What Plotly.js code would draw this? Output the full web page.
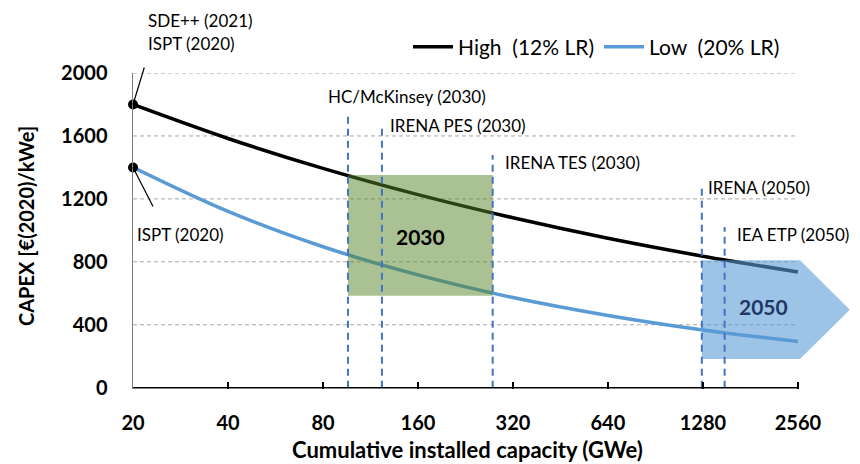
<!DOCTYPE html>
<html>
<head>
<meta charset="utf-8">
<script src="https://cdn.plot.ly/plotly-3.0.1.min.js"></script>
<style>html,body{margin:0;padding:0;background:#fff;}#chart{width:860px;height:464px;}</style>
</head>
<body>
<div id="chart"></div>
<script>
// ---- data ----
const capacityTicks = [20, 40, 80, 160, 320, 640, 1280, 2560];
const capacity = [20, 40, 80, 160, 320, 640, 1280, 2560];
const highCapex = [1800, 1584, 1394, 1227, 1080, 950, 836, 736];   // High (12% LR)
const lowCapex  = [1400, 1120, 896, 717, 573, 459, 367, 294];      // Low (20% LR)
const yTicks = [0, 400, 800, 1200, 1600, 2000];
const gridValues = [400, 800, 1200, 1600, 2000];

const refNames = ['HC/McKinsey (2030)', 'IRENA PES (2030)', 'IRENA TES (2030)', 'IRENA (2050)', 'IEA ETP (2050)'];
const refCapacity = [96, 123, 276, 1270, 1500];
const refTop = [1746, 1651, 1479, 1295, 1022];

const range2030X = [96, 276, 276, 96, 96];
const range2030Y = [584, 584, 1352, 1352, 584];
const range2050X = [1270, 2600, 3740, 2600, 1270, 1270];
const range2050Y = [182, 182, 495, 810, 810, 182];

const FONT = 'Lato, "Liberation Sans", sans-serif';
const traces = [];

// gridlines
gridValues.forEach(v => traces.push({
  x: [capacity[0], capacity[capacity.length - 1]], y: [v, v], mode: 'lines',
  line: {color: '#a6a6a6', width: 1, dash: '4px,3px'}, hoverinfo: 'skip', showlegend: false
}));

traces.push({x: capacity, y: highCapex, name: 'High  (12% LR)', mode: 'lines',
  line: {color: '#000000', width: 3.5, shape: 'spline'}});
traces.push({x: capacity, y: lowCapex, name: 'Low  (20% LR)', mode: 'lines',
  line: {color: '#5b9bd5', width: 3.5, shape: 'spline'}});

traces.push({x: range2030X, y: range2030Y, mode: 'lines', fill: 'toself',
  fillcolor: 'rgba(84,131,40,0.5)', line: {width: 0}, hoverinfo: 'skip', showlegend: false});
traces.push({x: range2050X, y: range2050Y, mode: 'lines', fill: 'toself',
  fillcolor: 'rgba(91,155,213,0.6)', line: {width: 0}, hoverinfo: 'skip', showlegend: false});

refCapacity.forEach((c, i) => traces.push({
  x: [c, c], y: [0, refTop[i]], mode: 'lines',
  line: {color: '#4472c4', width: 2, dash: '7px,5px'}, hoverinfo: 'skip', showlegend: false
}));

// x axis line (ends at last tick)
traces.push({x: [capacity[0], capacity[capacity.length - 1]], y: [0, 0], mode: 'lines',
  line: {color: '#000000', width: 1.5}, hoverinfo: 'skip', showlegend: false});

// start-point markers
traces.push({x: [capacity[0], capacity[0]], y: [highCapex[0], lowCapex[0]], mode: 'markers',
  marker: {color: '#000', size: 10}, cliponaxis: false, hoverinfo: 'skip', showlegend: false});

const px = p => (p - 133) / 719;
const py = p => (389 - p) / 316;

const annotations = [];
const txt = (text, x, y, opts) => annotations.push(Object.assign({
  text: text, xref: 'paper', yref: 'paper', x: x, y: y, xanchor: 'left', yanchor: 'middle',
  showarrow: false, font: {family: FONT, size: 17, color: '#000'}
}, opts || {}));

txt('SDE++ (2021)', px(146), py(20));
txt('ISPT (2020)', px(146), py(44));
txt('ISPT (2020)', px(135), py(234));
const refLabelPx = [[326, 97], [388, 125], [503, 162], [706, 187], [735, 234]];
refNames.forEach((n, i) => txt(n, px(refLabelPx[i][0]), py(refLabelPx[i][1])));
txt('<b>2030</b>', px(420), py(236), {xanchor: 'center', font: {family: FONT, size: 21, color: '#000'}});
txt('<b>2050</b>', px(763), py(306), {xanchor: 'center', font: {family: FONT, size: 21, color: '#1f3864'}});

// axis titles (centred on the drawn axis, which ends at the last tick)
txt('<b>Cumulative installed capacity (GWe)</b>', px(467), py(449), {xanchor: 'center', font: {family: FONT, size: 22, color: '#000'}});
txt('<b>CAPEX [€(2020)/kWe]</b>', px(26), py(226), {xanchor: 'center', textangle: -90, font: {family: FONT, size: 20, color: '#000'}});

// leader lines
const x0log = Math.log(capacity[0]) / Math.LN10;
annotations.push({x: x0log, y: highCapex[0], xref: 'x', yref: 'y', text: ' ',
  showarrow: true, arrowhead: 0, arrowwidth: 1.2, arrowcolor: '#000', ax: 14, ay: -46, standoff: 0});
annotations.push({x: x0log, y: lowCapex[0], xref: 'x', yref: 'y', text: ' ',
  showarrow: true, arrowhead: 0, arrowwidth: 1.2, arrowcolor: '#000', ax: 23, ay: 45, standoff: 0});

const layout = {
  width: 860, height: 464,
  margin: {l: 133, r: 8, t: 73, b: 75},
  paper_bgcolor: '#fff', plot_bgcolor: '#fff',
  font: {family: FONT, color: '#000'},
  showlegend: true,
  legend: {orientation: 'h', x: px(408), y: py(47), xanchor: 'left', yanchor: 'middle',
    font: {family: FONT, size: 21, color: '#000'}, bgcolor: 'rgba(0,0,0,0)', itemwidth: 40, tracegroupgap: 0},
  xaxis: {
    type: 'log', range: [Math.log10(19.995), Math.log10(3800)],
    tickvals: capacityTicks, ticktext: capacityTicks.map(String),
    ticks: 'inside', ticklen: 7, tickwidth: 1.5, tickcolor: '#000',
    showgrid: false, zeroline: false, showline: false,
    tickfont: {family: FONT, size: 20, color: '#000', weight: 'bold'},
    ticklabelstandoff: 20
  },
  yaxis: {
    range: [-8, 2000], tickvals: yTicks, ticktext: yTicks.map(String),
    showgrid: false, zeroline: false, showline: true, linecolor: '#808080', linewidth: 1.5,
    ticks: '', tickfont: {family: FONT, size: 20, color: '#000', weight: 'bold'},
    ticklabelstandoff: 20
  },
  annotations: annotations
};

Plotly.newPlot('chart', traces, layout, {displayModeBar: false, staticPlot: true});
</script>
</body>
</html>
